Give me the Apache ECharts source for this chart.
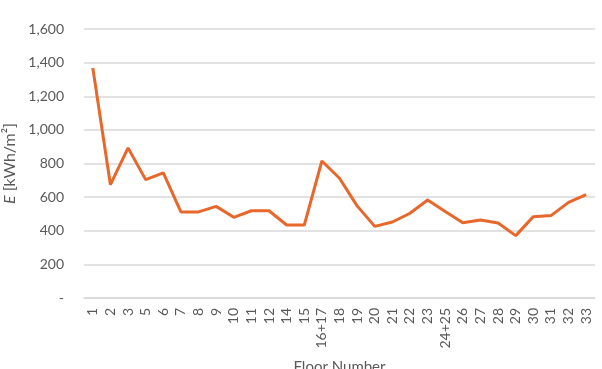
<!DOCTYPE html>
<html>
<head>
<meta charset="utf-8">
<script src="https://cdn.jsdelivr.net/npm/echarts@6/dist/echarts.min.js"></script>
<style>html,body{margin:0;padding:0;background:#fff}#c{width:602px;height:369px}</style>
</head>
<body>
<div id="c"></div>
<script>
const categories = ['1','2','3','5','6','7','8','9','10','11','12','14','15','16+17','18','19','20','21','22','23','24+25','26','27','28','29','30','31','32','33'];
const energy = [1368,674,893,704,744,512,512,545,480,519,519,434,434,815,712,548,426,452,504,583,515,448,464,446,371,484,490,569,615];
const yTicks = [0,200,400,600,800,1000,1200,1400,1600];

const chart = echarts.init(document.getElementById('c'), null, {renderer:'canvas'});
const txt = '#595959';
chart.setOption({
  animation:false,
  grid:{left:84, right:7, top:29, bottom:71, containLabel:false, outerBoundsMode:'none'},
  xAxis:{
    type:'category', data:categories, boundaryGap:true,
    name:'Floor Number', nameLocation:'middle', nameGap:62,
    nameTextStyle:{color:txt, fontFamily:'Lato', fontSize:15},
    axisLine:{lineStyle:{color:'#d9d9d9', width:1.5}},
    axisTick:{show:false},
    axisLabel:{rotate:90, interval:0, margin:10, color:txt, fontFamily:'Lato', fontSize:14}
  },
  yAxis:{
    type:'value', min:yTicks[0], max:yTicks[yTicks.length-1], interval:200,
    name:'{i|E} [kWh/m²]', nameLocation:'middle', nameGap:64, nameRotate:90,
    nameTextStyle:{color:txt, fontFamily:'Lato', fontSize:16, rich:{i:{fontStyle:'italic', color:txt, fontFamily:'Lato', fontSize:16}}},
    axisLine:{show:false}, axisTick:{show:false},
    splitLine:{lineStyle:{color:'#d9d9d9', width:1.5}},
    axisLabel:{margin:20, color:txt, fontFamily:'Lato', fontSize:14,
      formatter:v => v === 0 ? '-' : v.toLocaleString('en-US')}
  },
  series:[{
    type:'line', data:energy, symbol:'none',
    lineStyle:{color:'#E8672A', width:3}
  }]
});
</script>
</body>
</html>
